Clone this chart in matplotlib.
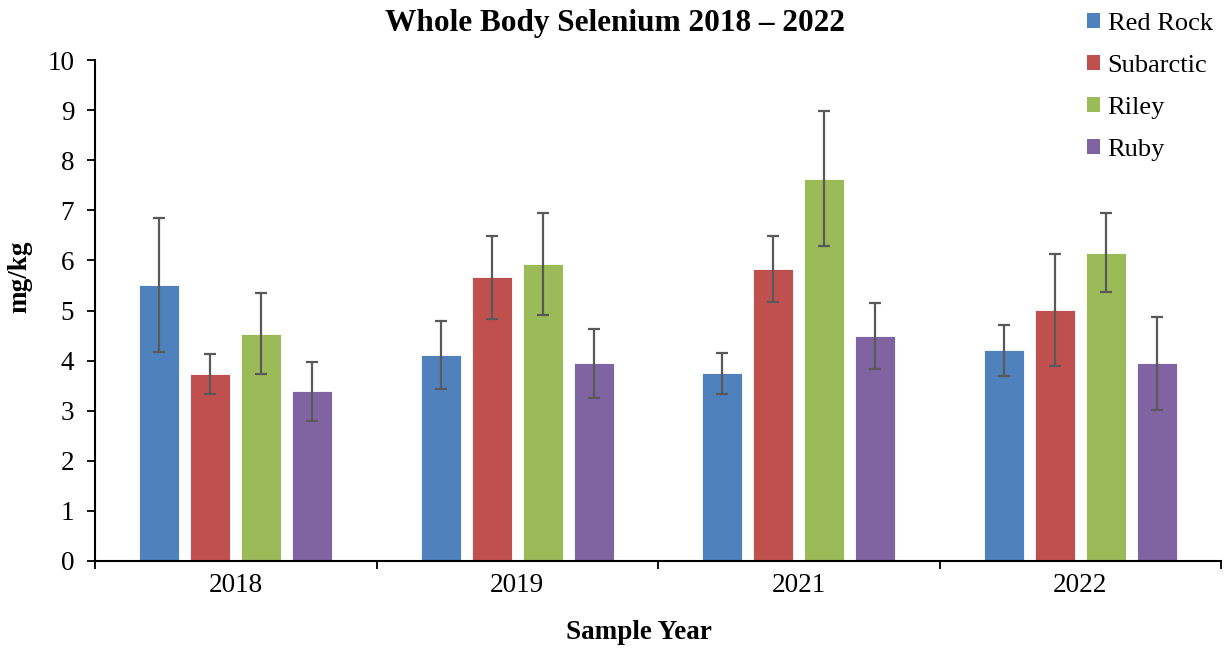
import matplotlib
matplotlib.use("Agg")
import matplotlib.pyplot as plt
import numpy as np
from matplotlib.patches import Patch

years = ["2018", "2019", "2021", "2022"]
sites = ["Red Rock", "Subarctic", "Riley", "Ruby"]

red_rock = [5.51, 4.12, 3.75, 4.21]
subarctic = [3.73, 5.66, 5.82, 5.01]
riley = [4.54, 5.93, 7.63, 6.15]
ruby = [3.39, 3.95, 4.49, 3.95]

red_rock_err = [1.33, 0.68, 0.41, 0.51]
subarctic_err = [0.40, 0.83, 0.66, 1.12]
riley_err = [0.81, 1.02, 1.35, 0.79]
ruby_err = [0.59, 0.69, 0.65, 0.93]

colors = ["#4F81BD", "#C0504D", "#9BBB59", "#8064A2"]

plt.rcParams["font.family"] = ["Liberation Serif", "DejaVu Serif"]

fig = plt.figure(figsize=(12.25, 6.49), dpi=100)
ax = fig.add_axes([95 / 1225, 1 - 561 / 649, 1126 / 1225, 501 / 649])

x = np.arange(len(years))
spacing = 0.181
width = 0.143
series = [red_rock, subarctic, riley, ruby]
errors = [red_rock_err, subarctic_err, riley_err, ruby_err]
for i, (values, errs) in enumerate(zip(series, errors)):
    offset = (i - 1.5) * spacing
    ax.bar(x + offset, values, width, color=colors[i], edgecolor="white",
           linewidth=0.6, zorder=2)
    ax.errorbar(x + offset, values, yerr=errs, fmt="none", ecolor="#595959",
                elinewidth=1.6, capsize=4.5, capthick=1.6, zorder=3)

ax.set_xlim(-0.5, len(years) - 0.5)
ax.set_ylim(0, 10)
ax.set_yticks(range(0, 11))
ax.tick_params(axis="y", labelsize=19.5, length=6, width=1.3, direction="out", pad=9)

ax.set_xticks(np.arange(-0.5, len(years), 1.0))
ax.set_xticklabels([])
ax.set_xticks(x, minor=True)
ax.set_xticklabels(years, minor=True)
ax.tick_params(axis="x", which="major", length=6, width=1.3, direction="out")
ax.tick_params(axis="x", which="minor", length=0, labelsize=19.5, pad=9)

for side in ["top", "right"]:
    ax.spines[side].set_visible(False)
for side in ["left", "bottom"]:
    ax.spines[side].set_linewidth(1.5)

ax.set_xlabel("Sample Year", fontsize=19.5, fontweight="bold")
ax.xaxis.set_label_coords((639 - 95) / 1126, (561 - 645) / 501)
ax.xaxis.label.set_va("bottom")
ax.set_ylabel("mg/kg", fontsize=19.5, fontweight="bold")
ax.yaxis.set_label_coords((32 - 95) / 1126, (561 - 277) / 501)

fig.text(615 / 1225, 1 - 23 / 649, "Whole Body Selenium 2018 \u2013 2022",
         fontsize=22.5, fontweight="bold", ha="center", va="center")

handles = [Patch(facecolor=c, edgecolor="none") for c in colors]
fig.legend(handles, sites, loc="upper left",
           bbox_to_anchor=(1076 / 1225, 1 - 2 / 649), frameon=False,
           fontsize=19, handlelength=0.5, handleheight=0.5,
           handletextpad=0.3, labelspacing=0.76, borderaxespad=0)

fig.savefig("out.png", dpi=100)
plt.close(fig)
